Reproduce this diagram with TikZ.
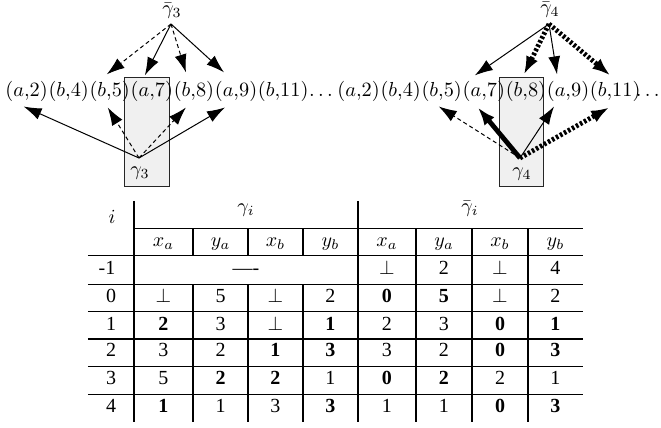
\RequirePackage{fix-cm}
\documentclass[tikz,border=0pt]{standalone}
\usepackage[no-math]{fontspec}
\setmainfont{Liberation Serif}
\usetikzlibrary{arrows.meta,calc}
\newcommand\tabrowx[3]{%
  \foreach \e [count=\k] in {#3} {
    \pgfmathsetmacro\cx{{111,163.5,220.5,275.5,330.5,387,444,500,555.5}[\k-1]}
    \node[cell] (#1c\k) at (\cx,#2) {\e};
  }}
\begin{document}
\begin{tikzpicture}[x=0.5pt,y=-0.5pt,
  pair/.style={inner sep=0pt,anchor=base west,font=\fontsize{10.15pt}{12pt}\selectfont},
  lbl/.style={inner sep=0pt},
  hbox/.style={draw=black!85,line width=0.5pt,fill=black!6},
  arr/.style={-{Latex[length=9pt,width=6pt]},line width=0.5pt},
  dsh/.style={arr,dash pattern=on 2pt off 1.5pt},
  thickarr/.style={-{Latex[length=9pt,width=6.5pt]},line width=2.4pt},
  thickdsh/.style={thickarr,dash pattern=on 1.3pt off 1pt},
  cell/.style={inner sep=0pt,anchor=base},
  vline/.style={line width=0.9pt},
  hline/.style={line width=0.5pt},
  hthick/.style={line width=1.2pt}]
\useasboundingbox (0,0) rectangle (661,428);

% ---------- left diagram ----------
\draw[hbox] (125,78) rectangle (170,187);
\node[pair] (L1) at (5,97)   {$(a{,}2)$};
\node[pair] (L2) at (L1.base east) {$(b{,}4)$};
\node[pair] (L3) at (L2.base east) {$(b{,}5)$};
\node[pair] (L4) at (L3.base east) {$(a{,}7)$};
\node[pair] (L5) at (L4.base east) {$(b{,}8)$};
\node[pair] (L6) at (L5.base east) {$(a{,}9)$};
\node[pair] (L7) at (L6.base east) {$(b{,}11)$};
\node[pair] (Ld) at (L7.base east) {$\ldots$};
\node[lbl] (gb3) at (172,11) {$\bar\gamma_3$};
\coordinate (T3) at (171,24);
\node[lbl] (g3) at (140,173) {$\gamma_3$};
\coordinate (B3) at (139,158);

\draw[dsh] (T3) -- ($(L3.north)+(-3,-7)$);
\draw[arr] (T3) -- ($(L4.north)+(-7,-6)$);
\draw[dsh] (T3) -- ($(L5.north)+(-8,-9)$);
\draw[arr] (T3) -- ($(L6.north)+(-12,-9)$);
\draw[arr] (B3) -- ($(L1.south)+(-3,4)$);
\draw[dsh] (B3) -- ($(L3.south)+(-2,5)$);
\draw[dsh] (B3) -- ($(L5.south)+(-8,5)$);
\draw[arr] (B3) -- ($(L6.south)+(-11,5)$);

% ---------- right diagram ----------
\draw[hbox] (500,78) rectangle (544,187);
\node[pair] (R1) at (337,97) {$(a{,}2)$};
\node[pair] (R2) at (R1.base east) {$(b{,}4)$};
\node[pair] (R3) at (R2.base east) {$(b{,}5)$};
\node[pair] (R4) at (R3.base east) {$(a{,}7)$};
\node[pair] (R5) at (R4.base east) {$(b{,}8)$};
\node[pair] (R6) at (R5.base east) {$(a{,}9)$};
\node[pair] (R7) at (R6.base east) {$(b{,}11)$};
\node[pair,anchor=base east] (Rd) at (660,97) {$\ldots$};
\node[lbl] (gb4) at (550,10) {$\bar\gamma_4$};
\coordinate (T4) at (549,24);
\node[lbl] (g4) at (522,174) {$\gamma_4$};
\coordinate (B4) at (520,158);

\draw[arr] (T4) -- ($(R4.north)+(-9,-6)$);
\draw[thickdsh] (T4) -- ($(R5.north)+(-2,-7)$);
\draw[arr] (T4) -- ($(R6.north)+(-11,-7)$);
\draw[thickdsh] (T4) -- ($(R7.north)+(-5,-6)$);
\draw[dsh] (B4) -- ($(R3.south)+(-3,4)$);
\draw[thickarr] (B4) -- ($(R4.south)+(-6,5)$);
\draw[arr] (B4) -- ($(R6.south)+(-14,4)$);
\draw[thickdsh] (B4) -- ($(R7.south)+(-6,5)$);

% ---------- table grid ----------
\draw[hline] (134,229) -- (583,229);
\foreach \y in {256,285,312,367,395} \draw[hline] (88,\y) -- (583,\y);
\draw[hthick] (88,339) -- (583,339);
\draw[vline] (134,201) -- (134,422);
\draw[vline] (358,201) -- (358,422);
\foreach \x in {193,248,303} {
  \draw[vline] (\x,229) -- (\x,256);
  \draw[vline] (\x,285) -- (\x,422);
}
\foreach \x in {416,472,528} \draw[vline] (\x,229) -- (\x,422);

% ---------- table text ----------
\node[cell] (hi) at (112,224) {$i$};
\node[cell] (hg) at (246,213) {$\gamma_i$};
\node[cell] (hgb) at (470,213) {$\bar\gamma_i$};
\node[cell] (hxa) at (163.5,247) {$x_a$};
\node[cell] (hya) at (220.5,247) {$y_a$};
\node[cell] (hxb) at (275.5,247) {$x_b$};
\node[cell] (hyb) at (330.5,247) {$y_b$};
\node[cell] (hxa2) at (387,247) {$x_a$};
\node[cell] (hya2) at (444,247) {$y_a$};
\node[cell] (hxb2) at (500,247) {$x_b$};
\node[cell] (hyb2) at (555.5,247) {$y_b$};

\node[cell] (rmc1) at (107,275) {-1};
\node[cell] (rmc2) at (246,275) {\textemdash-};
\node[cell] (rmc6) at (387,275) {$\bot$};
\node[cell] (rmc7) at (444,275) {2};
\node[cell] (rmc8) at (500,275) {$\bot$};
\node[cell] (rmc9) at (555.5,275) {4};

\tabrowx{ra}{303}{0,$\bot$,5,$\bot$,2,\textbf{0},\textbf{5},$\bot$,2}
\tabrowx{rb}{330}{1,\textbf{2},3,$\bot$,\textbf{1},2,3,\textbf{0},\textbf{1}}
\tabrowx{rc}{357}{2,3,2,\textbf{1},\textbf{3},3,2,\textbf{0},\textbf{3}}
\tabrowx{rd}{385}{3,5,\textbf{2},\textbf{2},1,\textbf{0},\textbf{2},2,1}
\tabrowx{re}{413}{4,\textbf{1},1,3,\textbf{3},1,1,\textbf{0},\textbf{3}}
\end{tikzpicture}
\end{document}
